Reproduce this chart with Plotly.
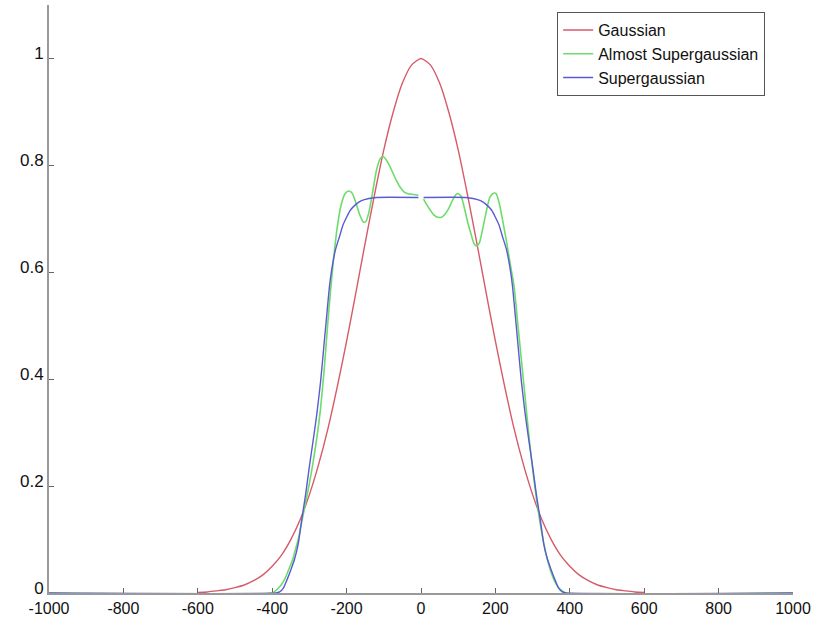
import plotly.graph_objects as go

# ---- data ----
gauss_x = [-600, -575, -550, -525, -500, -475, -450, -425, -400, -375, -350, -325, -300, -275, -250,
           -225, -200, -175, -150, -125, -100, -75, -50, -25, 0, 25, 50, 75, 100, 125, 150, 175, 200,
           225, 250, 275, 300, 325, 350, 375, 400, 425, 450, 475, 500, 525, 550, 575, 600]
gauss_y = [0.001, 0.002, 0.004, 0.006, 0.010, 0.015, 0.023, 0.034, 0.050, 0.071, 0.100, 0.137, 0.184,
           0.241, 0.308, 0.386, 0.471, 0.562, 0.655, 0.745, 0.829, 0.899, 0.954, 0.988, 1.000, 0.988,
           0.954, 0.899, 0.829, 0.745, 0.655, 0.562, 0.471, 0.386, 0.308, 0.241, 0.184, 0.137, 0.100,
           0.071, 0.050, 0.034, 0.023, 0.015, 0.010, 0.006, 0.004, 0.002, 0.001]

almost_x = [-1000, -400, -395, -385, -375, -365, -355, -345, -340, -330, -320, -310, -300, -290, -280,
            -270, -260, -250, -242, -235, -225, -215, -205, -195, -185, -175, -165, -155, -148, -140,
            -130, -120, -110, -103, -95, -85, -75, -65, -55, -45, -35, -25, -15, -7, 0, 7, 15, 25, 35,
            45, 55, 65, 75, 85, 95, 100, 108, 115, 125, 135, 143, 150, 157, 165, 175, 185, 195, 202,
            210, 220, 229, 240, 250, 260, 270, 280, 290, 300, 310, 320, 330, 340, 350, 360, 370, 380,
            390, 1000]
almost_y = [0.0, 0.0, 0.002, 0.008, 0.016, 0.028, 0.045, 0.062, 0.075, 0.100, 0.135, 0.170, 0.205,
            0.245, 0.290, 0.345, 0.420, 0.510, 0.574, 0.625, 0.685, 0.725, 0.746, 0.752, 0.748, 0.730,
            0.708, 0.694, 0.695, 0.712, 0.750, 0.790, 0.812, 0.817, 0.812, 0.800, 0.785, 0.770, 0.758,
            0.750, 0.747, 0.746, 0.745, 0.744, None, 0.737, 0.727, 0.716, 0.707, 0.703, 0.703, 0.709,
            0.720, 0.735, 0.746, 0.747, 0.742, 0.725, 0.695, 0.670, 0.653, 0.649, 0.655, 0.678, 0.712,
            0.740, 0.748, 0.747, 0.730, 0.695, 0.661, 0.615, 0.575, 0.505, 0.435, 0.365, 0.295, 0.232,
            0.178, 0.132, 0.092, 0.062, 0.038, 0.021, 0.010, 0.004, 0.0, 0.0]

super_x = [-1000, -390, -380, -370, -360, -350, -340, -330, -320, -310, -300, -290, -280, -270, -260,
           -250, -246, -240, -230, -219, -210, -200, -190, -175, -160, -140, -120, -7, 0, 7, 120, 140,
           160, 175, 190, 200, 210, 219, 230, 240, 246, 250, 260, 270, 280, 290, 300, 310, 320, 330,
           340, 350, 360, 370, 380, 390, 1000]
super_y = [0.0, 0.0, 0.002, 0.009, 0.025, 0.043, 0.063, 0.092, 0.140, 0.185, 0.237, 0.285, 0.335,
           0.395, 0.470, 0.545, 0.574, 0.605, 0.642, 0.667, 0.688, 0.703, 0.716, 0.727, 0.734, 0.738,
           0.740, 0.740, None, 0.740, 0.740, 0.738, 0.734, 0.727, 0.716, 0.703, 0.688, 0.667, 0.642,
           0.605, 0.574, 0.545, 0.470, 0.395, 0.335, 0.285, 0.237, 0.185, 0.140, 0.092, 0.063, 0.043,
           0.025, 0.009, 0.002, 0.0, 0.0]

x_ticks = [-1000, -800, -600, -400, -200, 0, 200, 400, 600, 800, 1000]
x_tick_text = ["-1000", "-800", "-600", "-400", "-200", "0", "200", "400", "600", "800", "1000"]
y_ticks = [0, 0.2, 0.4, 0.6, 0.8, 1]
y_tick_text = ["0", "0.2", "0.4", "0.6", "0.8", "1"]

fig = go.Figure()
fig.add_trace(go.Scatter(x=gauss_x, y=gauss_y, mode="lines", name="Gaussian",
                         line=dict(color="#d65a68", width=1.4, shape="spline", smoothing=0.6)))
fig.add_trace(go.Scatter(x=almost_x, y=almost_y, mode="lines", name="Almost Supergaussian",
                         line=dict(color="#6ddc6d", width=1.6, shape="spline", smoothing=0.6),
                         connectgaps=False))
fig.add_trace(go.Scatter(x=super_x, y=super_y, mode="lines", name="Supergaussian",
                         line=dict(color="#5a5ad2", width=1.4, shape="spline", smoothing=0.5),
                         connectgaps=False))

fig.update_layout(
    width=824, height=618,
    margin=dict(l=49, r=31, t=5, b=25),
    paper_bgcolor="white", plot_bgcolor="white",
    font=dict(family="Liberation Sans, Arial, sans-serif", size=16, color="#111111"),
    showlegend=True,
    legend=dict(x=0.683, y=0.988, xanchor="left", yanchor="top",
                bordercolor="#555555", borderwidth=1, bgcolor="white",
                font=dict(size=16), itemwidth=30, tracegroupgap=0),
    xaxis=dict(range=[-1000, 1000], tickvals=x_ticks, ticktext=x_tick_text, ticks="inside",
               ticklen=5, tickcolor="#666666", showline=True, linecolor="#999999", linewidth=2,
               showgrid=False, zeroline=False, tickfont=dict(size=16), ticklabelstandoff=0,
               automargin=False, layer="below traces"),
    yaxis=dict(range=[0, 1.1], tickvals=y_ticks, ticktext=y_tick_text, ticks="inside", ticklen=5,
               tickcolor="#666666", showline=True, linecolor="#999999", linewidth=2,
               showgrid=False, zeroline=False, tickfont=dict(size=17), ticklabelshift=-5,
               automargin=False, layer="below traces"),
)

fig.write_html("out.html")
